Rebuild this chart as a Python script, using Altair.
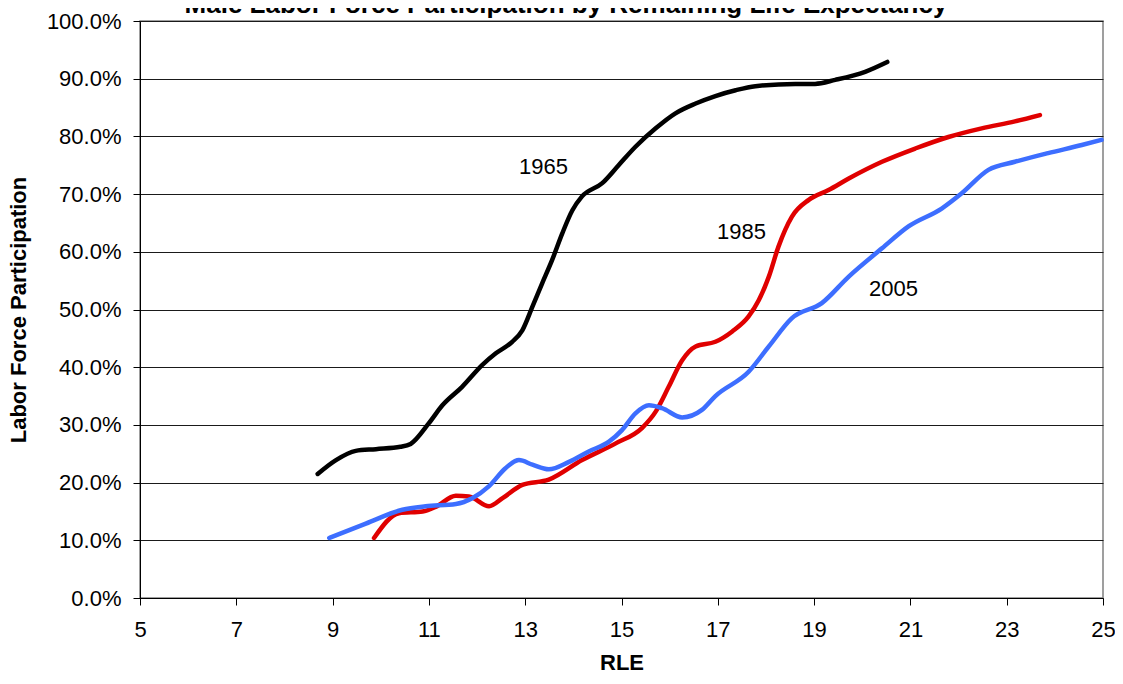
import altair as alt
import pandas as pd

# 1965 series (RLE, participation %)
rle_1965 = [8.69, 9.07, 9.48, 9.90, 10.41, 10.62, 11.0, 11.28, 11.69, 12.11, 12.39, 12.73, 12.94,
            13.15, 13.35, 13.56, 13.77, 13.98, 14.18, 14.60, 14.94, 15.29, 15.71, 16.12, 16.54,
            16.95, 17.37, 17.78, 18.61, 19.02, 19.44, 20.06, 20.52]
lfp_1965 = [21.5, 23.9, 25.5, 25.8, 26.2, 26.7, 30.3, 33.4, 36.6, 40.4, 42.4, 44.4, 46.4,
            50.5, 54.5, 58.6, 63.2, 67.2, 69.6, 71.9, 75.0, 78.2, 81.4, 84.0, 85.7,
            87.0, 88.0, 88.7, 89.1, 89.1, 89.8, 91.2, 92.9]

# 1985 series
rle_1985 = [9.86, 10.38, 10.87, 11.14, 11.56, 11.83, 12.25, 12.53, 12.94, 13.49, 14.18, 14.88,
            15.43, 15.71, 15.98, 16.26, 16.54, 16.95, 17.30, 17.64, 17.85, 18.06, 18.26, 18.54,
            18.89, 19.30, 19.72, 20.41, 21.10, 21.79, 22.48, 23.17, 23.69]
lfp_1985 = [10.4, 14.7, 15.0, 15.8, 17.7, 17.6, 15.9, 17.3, 19.6, 20.5, 23.9, 26.8,
            29.5, 32.3, 36.6, 41.2, 43.6, 44.4, 46.2, 48.8, 51.6, 55.7, 60.9, 66.1,
            69.0, 70.7, 72.7, 75.6, 77.9, 79.9, 81.4, 82.6, 83.7]

# 2005 series
rle_2005 = [8.93, 9.69, 10.45, 10.93, 11.56, 11.90, 12.25, 12.59, 12.87, 13.15, 13.49, 13.91,
            14.32, 14.74, 15.01, 15.29, 15.57, 15.84, 16.26, 16.67, 16.95, 17.64, 18.06, 18.54,
            19.16, 19.72, 20.41, 20.96, 21.65, 22.06, 22.62, 23.17, 23.86, 24.56, 24.97]
lfp_2005 = [10.4, 12.9, 15.3, 15.9, 16.3, 17.3, 19.4, 22.5, 23.9, 23.1, 22.3, 23.6,
            25.4, 27.1, 29.1, 32.0, 33.4, 32.9, 31.3, 32.6, 35.0, 39.2, 43.6, 48.5,
            51.1, 55.7, 60.6, 64.4, 67.5, 70.1, 74.2, 75.6, 77.1, 78.5, 79.4]

series_names = ["1965", "1985", "2005"]
series_colors = ["#000000", "#E00000", "#3D6EFF"]

label_text = ["1965", "1985", "2005"]
label_rle = [13.38, 17.49, 20.65]
label_lfp = [74.7, 63.4, 53.6]

x_ticks = [5, 7, 9, 11, 13, 15, 17, 19, 21, 23, 25]
y_ticks = [i / 10 for i in range(11)]

title_text = "Male Labor Force Participation by Remaining Life Expectancy"

rows = []
for name, xs, ys in [("1965", rle_1965, lfp_1965), ("1985", rle_1985, lfp_1985), ("2005", rle_2005, lfp_2005)]:
    for i, (a, b) in enumerate(zip(xs, ys)):
        rows.append({"series": name, "rle": a, "lfp": b / 100, "order": i})
df = pd.DataFrame(rows)

lab_df = pd.DataFrame({"text": label_text, "rle": label_rle, "lfp": [v / 100 for v in label_lfp]})

FONT = "Liberation Sans"

x_enc = alt.X("rle:Q", scale=alt.Scale(domain=[5, 25], nice=False, zero=False),
              axis=alt.Axis(values=x_ticks, title="RLE", grid=False, tickSize=7,
                            labelPadding=14, titlePadding=12, labelFontSize=22,
                            titleFontSize=22, titleFontWeight="bold", labelFont=FONT,
                            titleFont=FONT, labelColor="black", titleColor="black",
                            domainColor="black", tickColor="black", labelFlush=False))
y_enc = alt.Y("lfp:Q", scale=alt.Scale(domain=[0, 1], nice=False),
              axis=alt.Axis(values=y_ticks, format=".1%", title="Labor Force Participation",
                            grid=True, gridColor="#1a1a1a", gridWidth=1, tickSize=7,
                            labelPadding=12, titlePadding=16, labelFontSize=22,
                            titleFontSize=22, titleFontWeight="bold", labelFont=FONT,
                            titleFont=FONT, labelColor="black", titleColor="black",
                            domainColor="black", tickColor="black", labelFlush=False))

lines = alt.Chart(df).mark_line(interpolate="monotone", strokeWidth=4.5, strokeCap="round").encode(
    x=x_enc, y=y_enc,
    color=alt.Color("series:N", scale=alt.Scale(domain=series_names, range=series_colors), legend=None),
    order="order:Q",
)

labels = alt.Chart(lab_df).mark_text(font=FONT, fontSize=22, color="black", baseline="middle", align="center").encode(
    x="rle:Q", y="lfp:Q", text="text:N"
)

title = alt.Chart(pd.DataFrame({"t": [title_text]})).mark_text(
    font=FONT, fontSize=26, fontWeight="bold", color="black", align="center", baseline="alphabetic"
).encode(x=alt.value(426), y=alt.value(-8), text="t:N")

chart = alt.layer(lines, labels, title).properties(
    width=963, height=577,
    padding={"left": 132, "top": 13, "right": 12, "bottom": 76},
    autosize=alt.AutoSizeParams(type="none"),
    background="white",
).configure_view(stroke="#808080", strokeWidth=1.5)

chart.save("out.html", embed_options={"renderer": "svg", "actions": False})
